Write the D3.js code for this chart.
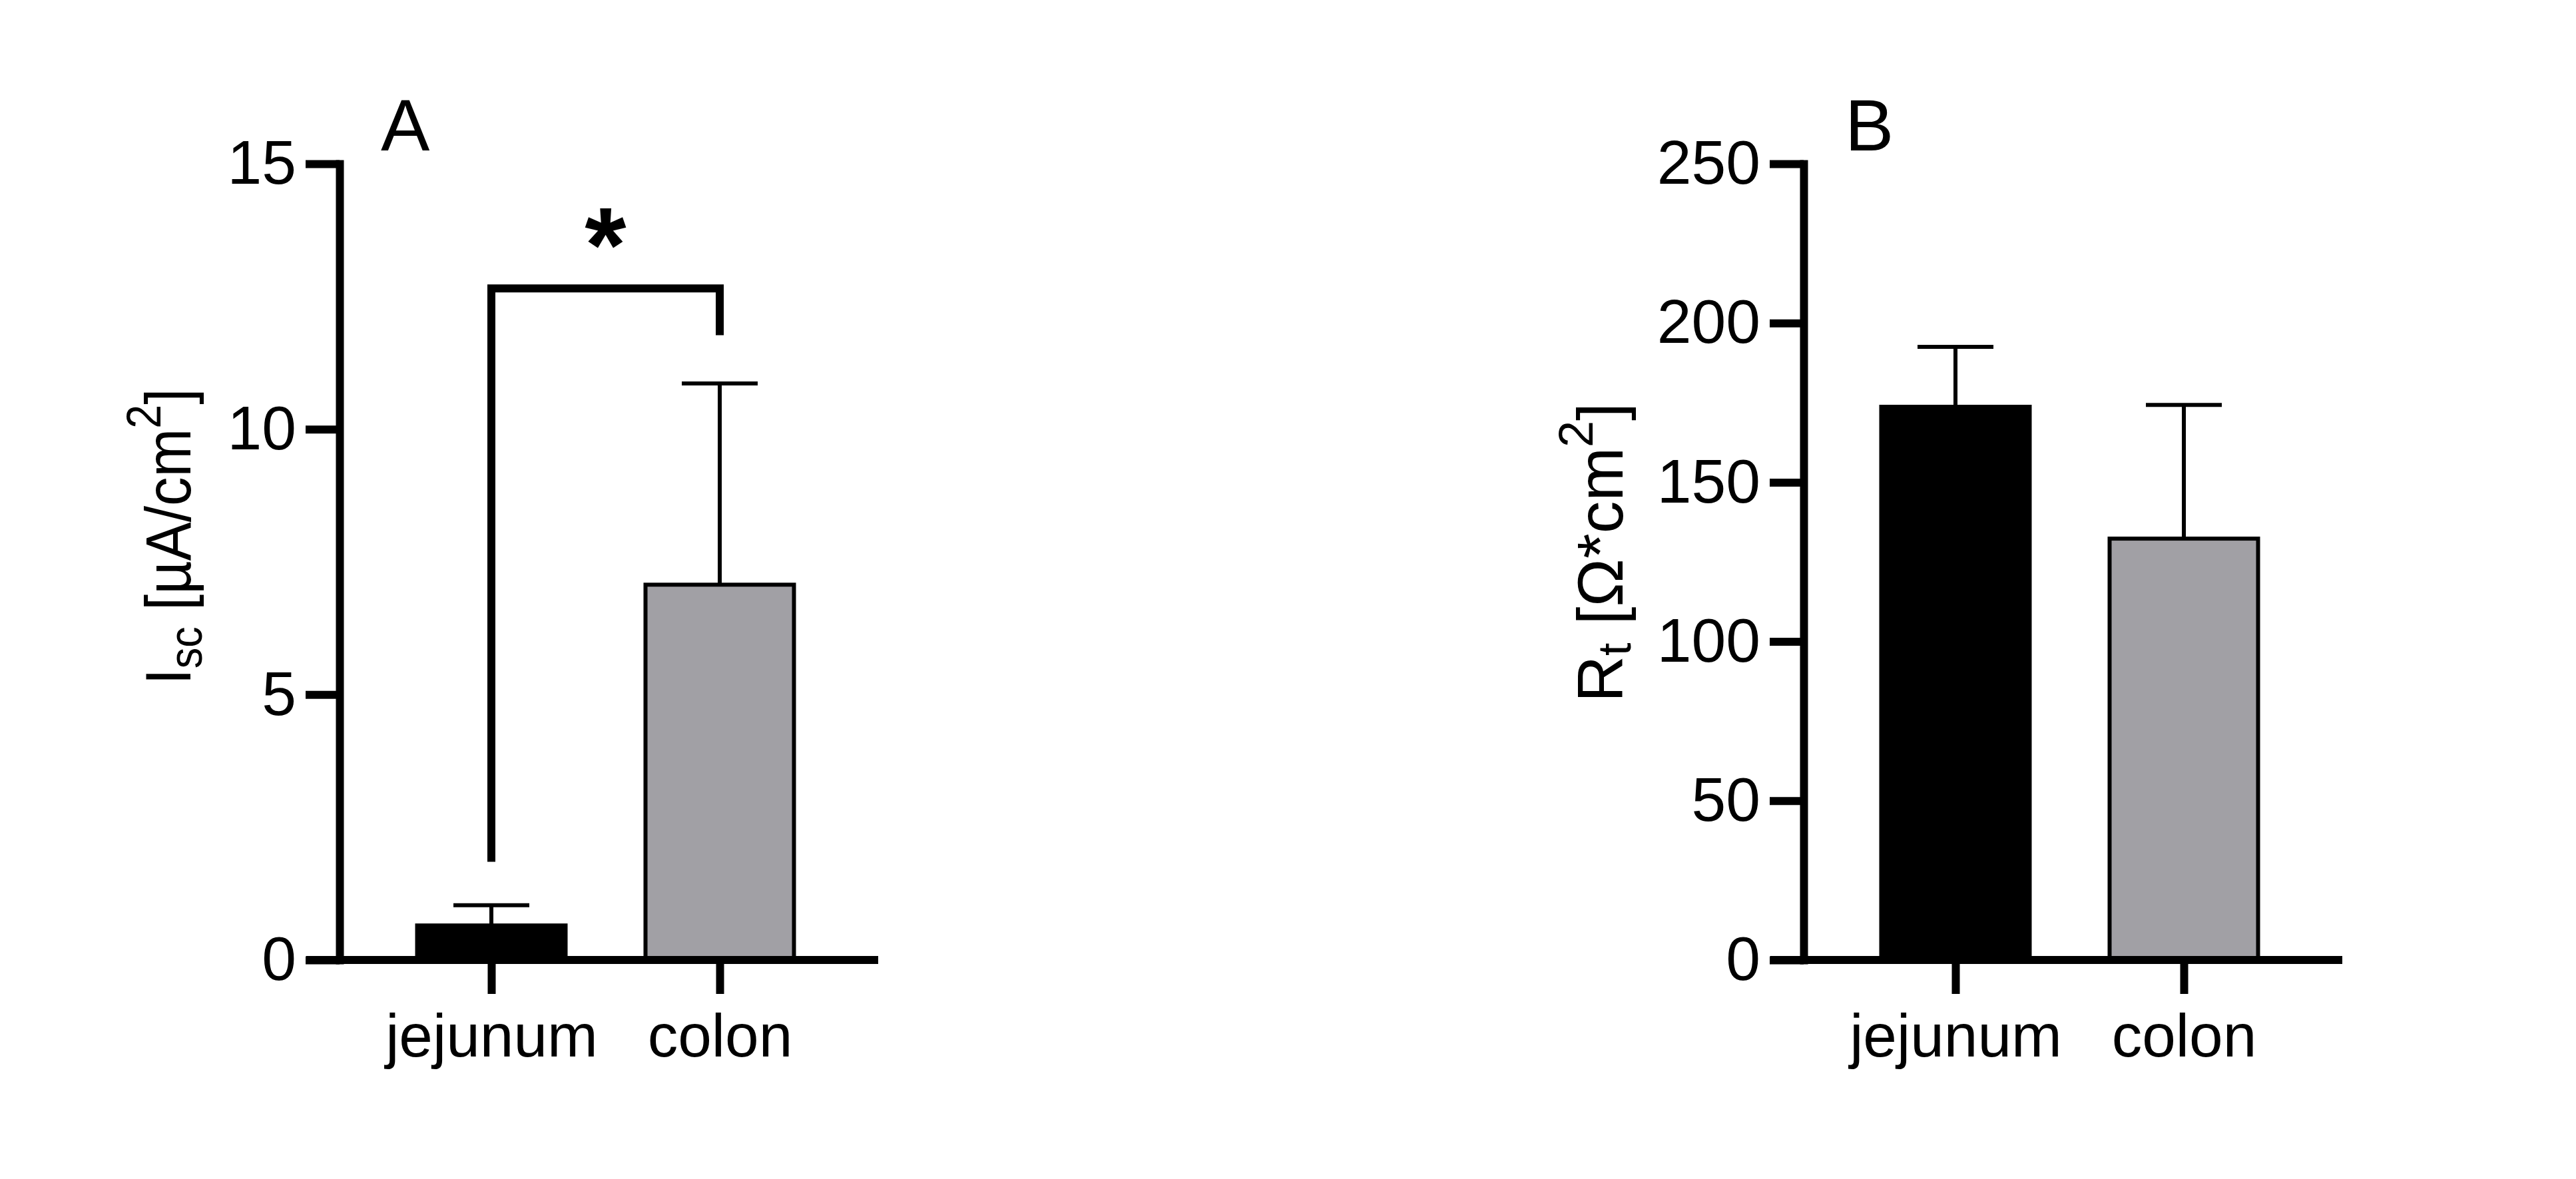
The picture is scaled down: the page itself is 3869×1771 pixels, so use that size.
<!DOCTYPE html>
<html><head><meta charset="utf-8">
<script src="https://cdn.jsdelivr.net/npm/d3@7"></script>
<style>
html,body{margin:0;padding:0;background:#fff;}
svg{display:block;}
text{font-family:"Liberation Sans",Arial,Helvetica,sans-serif;fill:#000;}
</style>
</head><body>
<svg id="chart" width="3869" height="1771"></svg>
<script>
// ---------- data ----------
const categories = ["jejunum", "colon"];
const iscMean = [0.65, 7.07];
const iscSem = [0.38, 3.79];
const iscTicks = [0, 5, 10, 15];
const rtMean = [173.7, 132.3];
const rtSem = [18.8, 42.0];
const rtTicks = [0, 50, 100, 150, 200, 250];
const bracketCats = ["jejunum", "colon"];
const bracketLevels = [1.85, 12.65, 11.77]; // left leg end, top, right leg end
const bracketLabel = "*";
const barFills = ["#000000", "#a1a0a5"];

// ---------- layout ----------
const svg = d3.select("#chart");
const Y0 = 1442, YTOP = 246;
const BW = 223, CAP = 114;
const AXW = 12, TICK = 51;

function panel(cfg) {
  const X0 = cfg.x0;
  const g = svg.append("g");
  const x = d3.scalePoint().domain(categories).range([X0 + 228, X0 + 571]);
  const y = d3.scaleLinear().domain([0, d3.max(cfg.ticks)]).range([Y0, YTOP]);

  // bars
  g.selectAll("rect.bar").data(categories).join("rect")
    .attr("class", "bar")
    .attr("x", d => x(d) - BW / 2).attr("width", BW)
    .attr("y", (d, i) => y(cfg.mean[i]))
    .attr("height", (d, i) => y(0) - y(cfg.mean[i]))
    .attr("fill", (d, i) => barFills[i])
    .attr("stroke", "#000").attr("stroke-width", 6);

  // error bars (upper only)
  const eb = g.selectAll("g.err").data(categories).join("g").attr("class", "err")
    .attr("stroke", "#000").attr("stroke-width", 6);
  eb.append("line")
    .attr("x1", d => x(d)).attr("x2", d => x(d))
    .attr("y1", (d, i) => y(cfg.mean[i])).attr("y2", (d, i) => y(cfg.mean[i] + cfg.sem[i]));
  eb.append("line")
    .attr("x1", d => x(d) - CAP / 2).attr("x2", d => x(d) + CAP / 2)
    .attr("y1", (d, i) => y(cfg.mean[i] + cfg.sem[i])).attr("y2", (d, i) => y(cfg.mean[i] + cfg.sem[i]));

  // y axis
  const ya = g.append("g").attr("transform", `translate(${X0},0)`)
    .call(d3.axisLeft(y).tickValues(cfg.ticks).tickSize(TICK).tickSizeOuter(0).tickPadding(14));
  ya.attr("font-size", null).attr("font-family", null);
  ya.select(".domain").attr("stroke", "#000").attr("stroke-width", AXW).attr("stroke-linecap", "square");
  ya.selectAll(".tick line").attr("stroke", "#000").attr("stroke-width", AXW);
  ya.selectAll(".tick text").attr("font-size", 93).attr("fill", "#000");

  // x axis
  g.append("line")
    .attr("x1", X0 - TICK + 1).attr("x2", X0 + 809)
    .attr("y1", y(0)).attr("y2", y(0))
    .attr("stroke", "#000").attr("stroke-width", AXW);
  const xa = g.append("g").attr("transform", `translate(0,${y(0)})`)
    .call(d3.axisBottom(x).tickSize(TICK).tickSizeOuter(0).tickPadding(29));
  xa.attr("font-size", null).attr("font-family", null);
  xa.select(".domain").remove();
  xa.selectAll(".tick line").attr("stroke", "#000").attr("stroke-width", AXW);
  xa.selectAll(".tick text").attr("font-size", 91).attr("fill", "#000");

  // panel letter
  g.append("text").attr("x", X0 + 62).attr("y", 226).attr("font-size", 110).text(cfg.letter);

  // y title
  const t = g.append("text")
    .attr("transform", `translate(${cfg.titleX},${cfg.titleY}) rotate(-90) scale(${cfg.titleScale},1)`)
    .attr("text-anchor", "middle").attr("font-size", 97);
  t.append("tspan").text(cfg.title[0]);
  t.append("tspan").attr("font-size", 70).attr("dy", cfg.subShift).text(cfg.title[1]);
  t.append("tspan").attr("dy", -cfg.subShift).text(cfg.title[2]);
  t.append("tspan").attr("font-size", 72).attr("dy", -45).text(cfg.title[3]);
  t.append("tspan").attr("dy", 45).text(cfg.title[4]);

  return {g, x, y};
}

const A = panel({x0: 510, ticks: iscTicks, mean: iscMean, sem: iscSem, letter: "A",
  title: ["I", "sc", " [µA/cm", "2", "]"], titleX: 286, titleY: 806, subShift: 17, titleScale: 0.9});
const B = panel({x0: 2709, ticks: rtTicks, mean: rtMean, sem: rtSem, letter: "B",
  title: ["R", "t", " [Ω*cm", "2", "]"], titleX: 2437, titleY: 830, subShift: 12, titleScale: 1});

// significance bracket in panel A
{
  const xl = A.x(bracketCats[0]), xr = A.x(bracketCats[1]);
  const path = d3.path();
  path.moveTo(xl, A.y(bracketLevels[0]));
  path.lineTo(xl, A.y(bracketLevels[1]));
  path.lineTo(xr, A.y(bracketLevels[1]));
  path.lineTo(xr, A.y(bracketLevels[2]));
  A.g.append("path").attr("d", path.toString())
    .attr("fill", "none").attr("stroke", "#000").attr("stroke-width", AXW)
    .attr("stroke-linejoin", "miter");
  A.g.append("text").attr("x", (xl + xr) / 2).attr("y", A.y(bracketLevels[1]) - 10)
    .attr("text-anchor", "middle").attr("font-weight", "bold").attr("font-size", 160)
    .text(bracketLabel);
}
</script>
</body></html>
